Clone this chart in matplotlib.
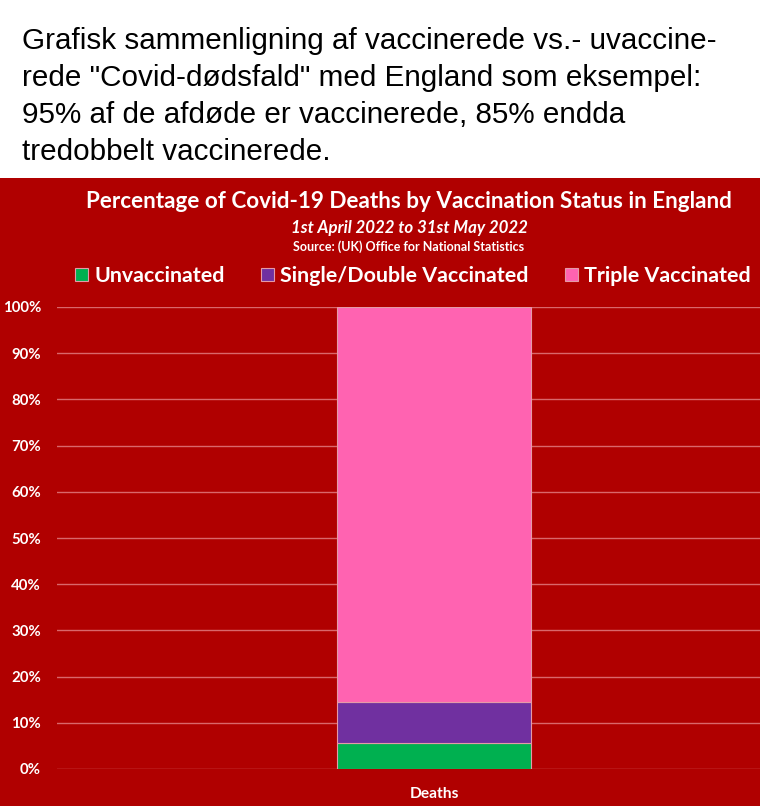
import matplotlib
matplotlib.use("Agg")
import matplotlib.pyplot as plt
from matplotlib.patches import Rectangle

W, H = 760, 806
categories = ["Deaths"]
series_names = ["Unvaccinated", "Single/Double Vaccinated", "Triple Vaccinated"]
unvaccinated = [5.7]
single_double = [8.8]
triple = [85.5]
series_values = [unvaccinated, single_double, triple]
series_colors = ["#00B050", "#7030A0", "#FF63B1"]
yticks = [0, 10, 20, 30, 40, 50, 60, 70, 80, 90, 100]
ytick_labels = [f"{v}%" for v in yticks]

header = ("Grafisk sammenligning af vaccinerede vs.- uvaccine-\n"
          "rede \"Covid-dødsfald\" med England som eksempel:\n"
          "95% af de afdøde er vaccinerede, 85% endda\n"
          "tredobbelt vaccinerede.")
title = "Percentage of Covid-19 Deaths by Vaccination Status in England"
subtitle = "1st April 2022 to 31st May 2022"
source = "Source: (UK) Office for National Statistics"

RED = "#B00000"
fig = plt.figure(figsize=(W / 100, H / 100), dpi=100)
fig.patch.set_facecolor("white")

def fx(x):
    return x / W

def fy(y):
    return 1 - y / H

# red panel
fig.patches.append(Rectangle((0, 0), 1, fy(178), transform=fig.transFigure,
                             facecolor=RED, edgecolor="none", zorder=-5))

fig.text(fx(22), fy(27), header, ha="left", va="top", fontsize=21.3,
         family=["Liberation Sans", "DejaVu Sans"], color="black",
         linespacing=1.41)

CH = ["Lato", "DejaVu Sans"]
fig.text(fx(409), fy(202), title, ha="center", va="center", fontsize=16.2,
         fontweight="bold", family=CH, color="white")
fig.text(fx(409), fy(228), subtitle, ha="center", va="center", fontsize=12.2,
         fontweight="bold", fontstyle="italic", family=CH, color="white")
fig.text(fx(409), fy(246.5), source, ha="center", va="center", fontsize=9,
         fontweight="bold", family=CH, color="white")

# axes
ax_left, ax_right, ax_top, ax_bottom = 57, 760, 307, 769
ax = fig.add_axes([fx(ax_left), fy(ax_bottom), fx(ax_right - ax_left),
                   (ax_bottom - ax_top) / H])
ax.set_zorder(2)
ax.patch.set_alpha(0)
bar_w = 0.55
bottom = [0.0]
handles = []
for name, vals, col in zip(series_names, series_values, series_colors):
    h = ax.bar(categories, vals, bottom=bottom, width=bar_w, color=col,
               edgecolor="#e59aa8", linewidth=0.8, label=name, zorder=3)
    handles.append(h)
    bottom = [b + v for b, v in zip(bottom, vals)]

unit = (531 - 337) / bar_w
ax.set_xlim(-(434 - ax_left) / unit, (ax_right - 434) / unit)
ax.set_ylim(0, 100)
ax.set_yticks(yticks)
ax.set_yticklabels(ytick_labels)
ax.yaxis.grid(True, color="#d9676b", linewidth=1.0, zorder=1)
ax.set_axisbelow(True)
for s in ax.spines.values():
    s.set_visible(False)
ax.tick_params(axis="y", length=0, pad=11.5, labelcolor="white", labelsize=10.8)
ax.tick_params(axis="x", length=0, pad=13, labelcolor="white", labelsize=11.2)
for lab in ax.get_yticklabels() + ax.get_xticklabels():
    lab.set_fontweight("bold")
    lab.set_family(CH)

leg = fig.legend(handles=handles, labels=series_names, loc="center",
                 bbox_to_anchor=(fx(413), fy(276)), ncol=3, frameon=False,
                 prop={"family": CH, "weight": "bold", "size": 15.4},
                 handlelength=0.62, handleheight=0.62, handletextpad=0.28,
                 columnspacing=1.7, borderaxespad=0)
for t in leg.get_texts():
    t.set_color("white")

fig.savefig("out.png", dpi=100, facecolor=fig.get_facecolor())
